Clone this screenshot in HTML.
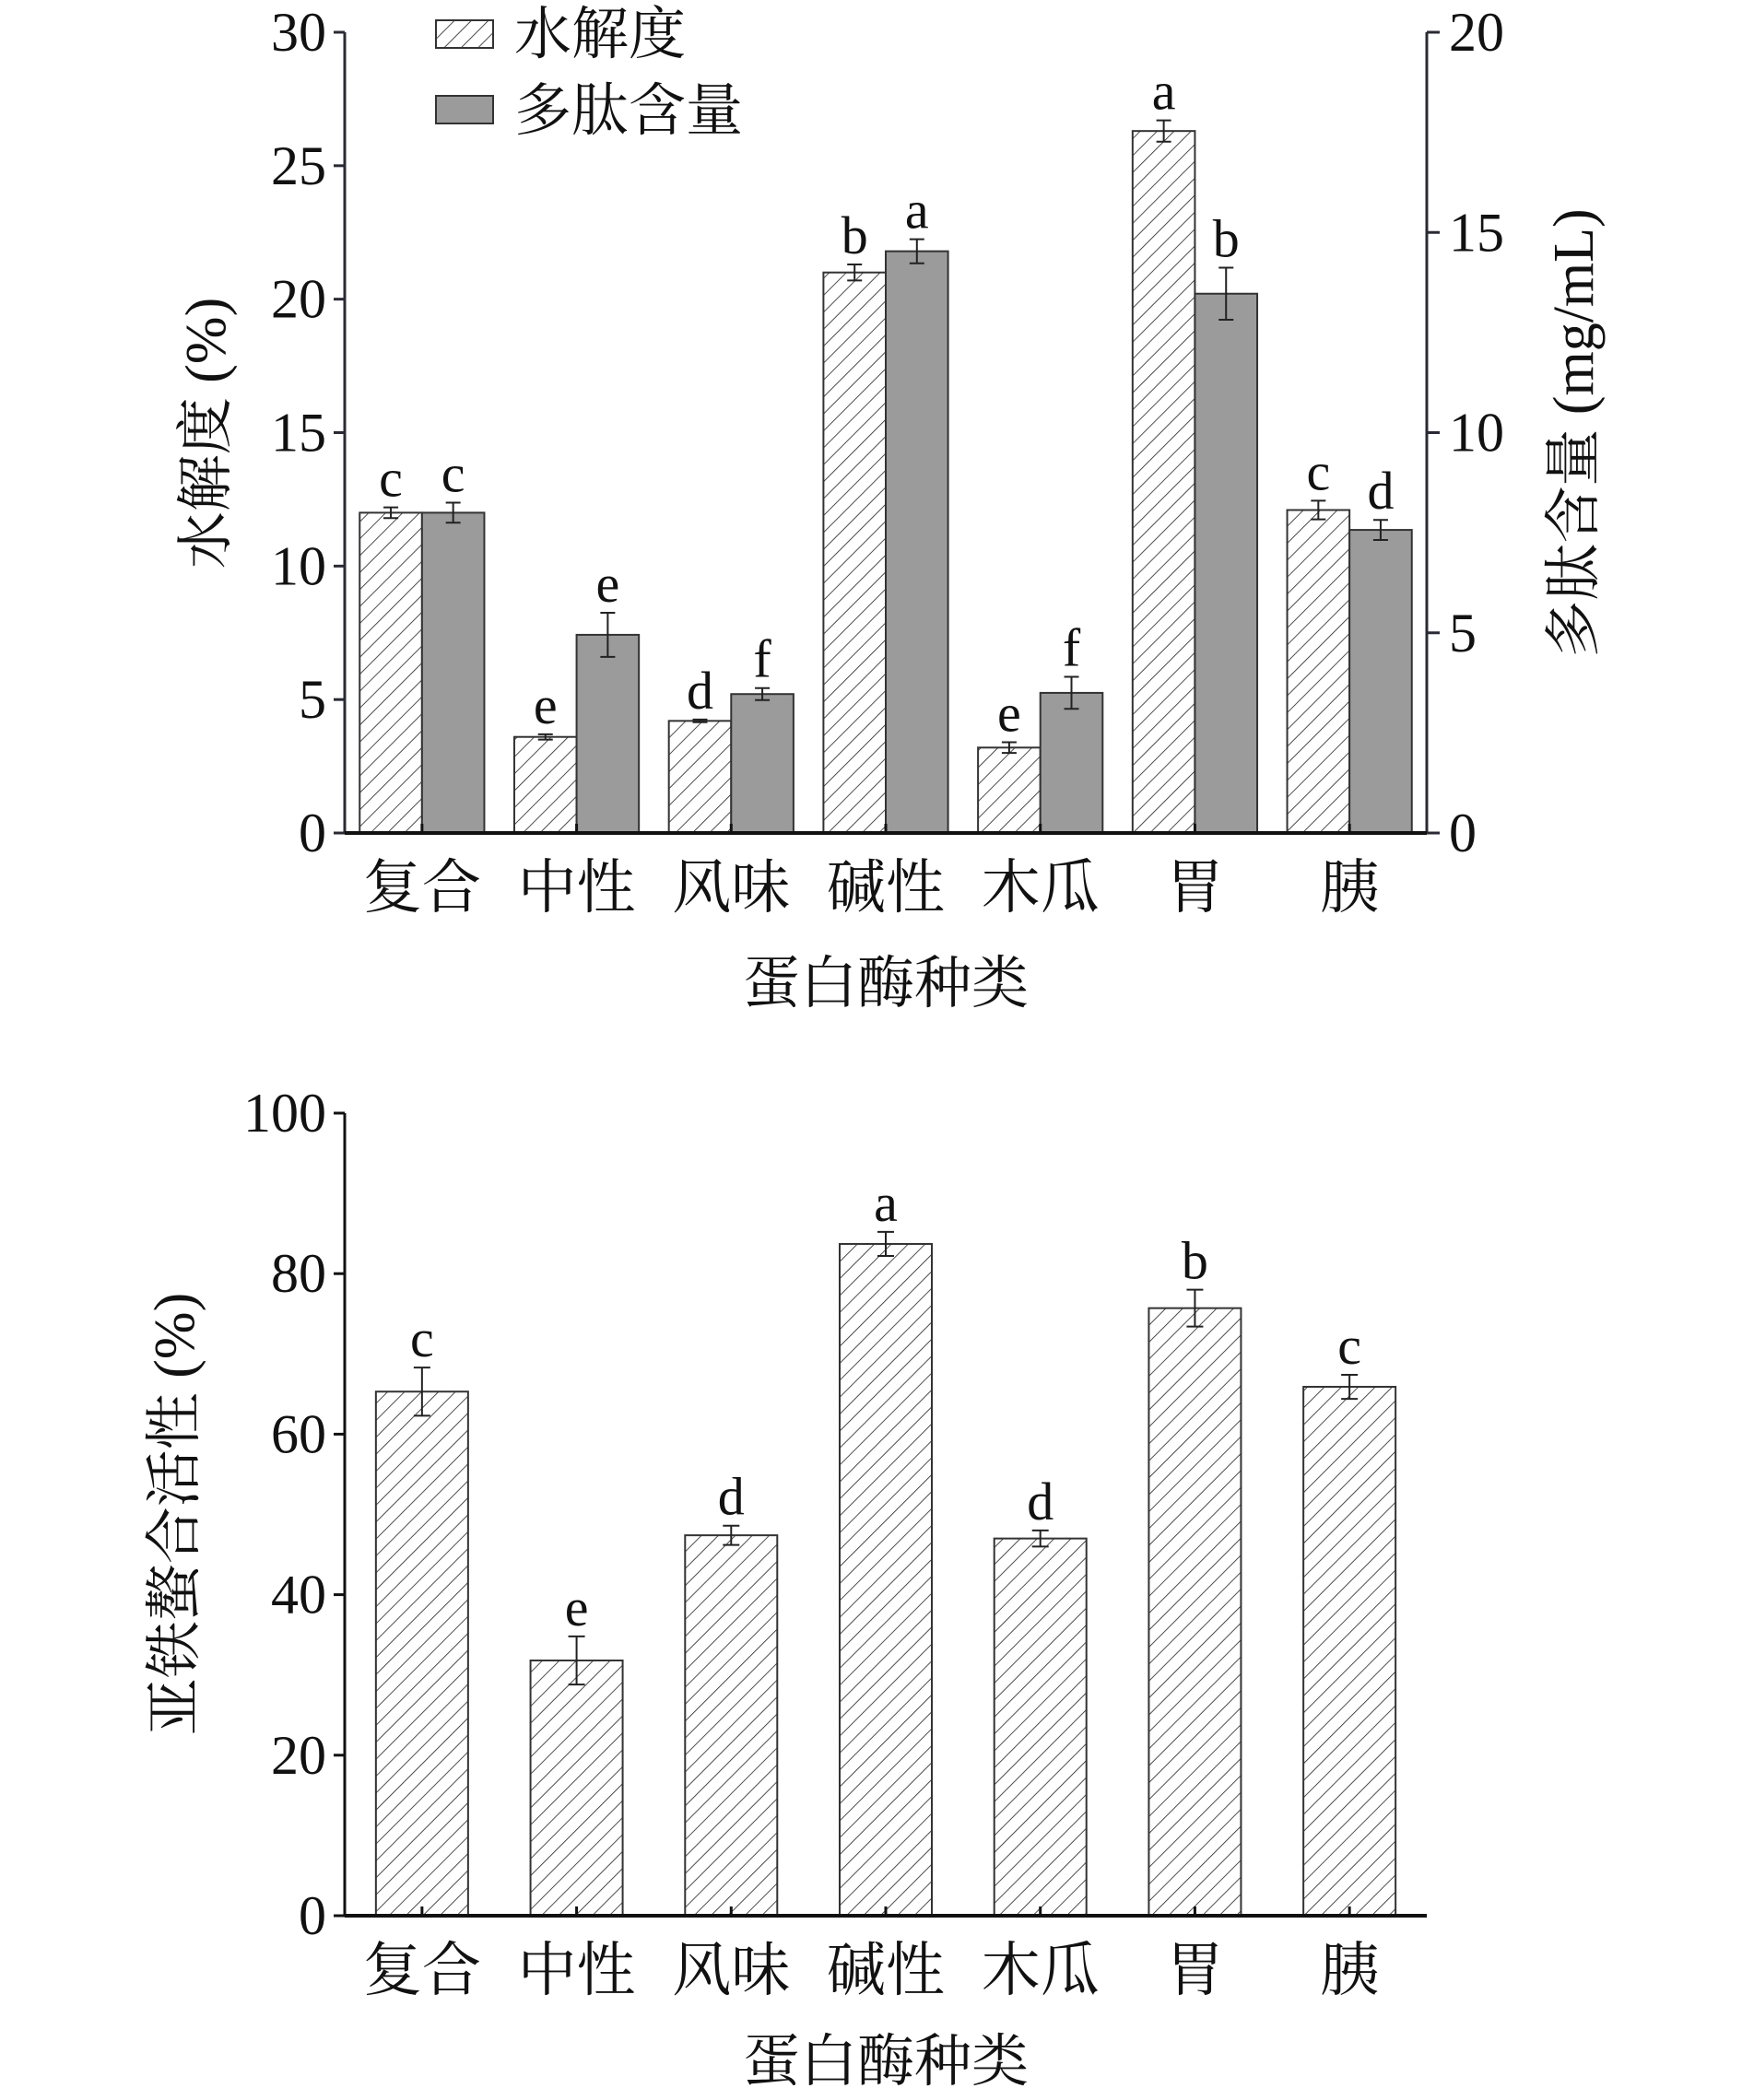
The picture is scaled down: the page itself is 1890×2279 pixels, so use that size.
<!DOCTYPE html>
<html><head><meta charset="utf-8">
<style>
html,body{margin:0;padding:0;background:#fff;}
svg{display:block;}
text{font-family:"Liberation Serif","Noto Serif CJK SC",serif;fill:#111;}
</style></head>
<body>
<svg id="chart" width="1890" height="2279" viewBox="0 0 1890 2279" xmlns="http://www.w3.org/2000/svg">
<defs>
<pattern id="hatch" patternUnits="userSpaceOnUse" width="13" height="13" patternTransform="rotate(45)">
<rect width="13" height="13" fill="#fff"/>
<line x1="0" y1="0" x2="0" y2="13" stroke="#222" stroke-width="1.6"/>
</pattern>
</defs>
</svg>
<script>
const categories = ["复合","中性","风味","碱性","木瓜","胃","胰"];
const dhValues = [12.0, 3.6, 4.2, 21.0, 3.2, 26.3, 12.1];
const dhErrors = [0.2, 0.1, 0.05, 0.3, 0.2, 0.4, 0.35];
const dhLetters = ["c","e","d","b","e","a","c"];
const peptideValues = [8.0, 4.95, 3.47, 14.53, 3.5, 13.47, 7.57];
const peptideErrors = [0.25, 0.55, 0.15, 0.3, 0.4, 0.65, 0.25];
const peptideLetters = ["c","e","f","a","f","b","d"];
const leftTicks = [0,5,10,15,20,25,30];
const rightTicks = [0,5,10,15,20];
const chelValues = [65.3, 31.8, 47.4, 83.7, 47.0, 75.7, 65.9];
const chelErrors = [3.0, 3.0, 1.2, 1.5, 1.0, 2.3, 1.5];
const chelLetters = ["c","e","d","a","d","b","c"];
const chelTicks = [0,20,40,60,80,100];

const svg = document.getElementById('chart');
const NS = 'http://www.w3.org/2000/svg';
function mk(tag, attrs, parent){const e=document.createElementNS(NS,tag);for(const k in attrs)e.setAttribute(k,attrs[k]);(parent||svg).appendChild(e);return e;}
function txt(s, attrs, parent){const e=mk('text',attrs,parent);e.textContent=s;return e;}
const AX='#2a2a35';
const TICKF=60, LETF=58, CATF=64, TITF=62;

// ---------- Top chart ----------
const T={x0:374,x1:1548,y0:904,y1:35};
const groupW=(T.x1-T.x0)/categories.length;
const yL=v=>T.y0-(v/30)*(T.y0-T.y1);
const yR=v=>T.y0-(v/20)*(T.y0-T.y1);
const gTop=mk('g',{});


const bw=67.6;
categories.forEach((c,i)=>{
  const cx=T.x0+groupW*(i+0.5);
  const y=yL(dhValues[i]);
  const r=mk('rect',{x:cx-bw,y:y,width:bw,height:T.y0-y,fill:'url(#hatch)',stroke:'#333','stroke-width':2},gTop);
  
  
  const ex=cx-bw/2;
  const eh=yL(dhValues[i]+dhErrors[i]), el=yL(dhValues[i]-dhErrors[i]);
  mk('path',{d:`M${ex},${eh}V${el}M${ex-8},${eh}H${ex+8}M${ex-8},${el}H${ex+8}`,stroke:'#222','stroke-width':2,fill:'none'},gTop);
  const l1=txt(dhLetters[i],{x:ex,y:eh-12,'font-size':LETF,'text-anchor':'middle'},gTop);
  
  
  const y2=yR(peptideValues[i]);
  const r2=mk('rect',{x:cx,y:y2,width:bw,height:T.y0-y2,fill:'#9b9b9b',stroke:'#333','stroke-width':2},gTop);
  
  
  const ex2=cx+bw/2;
  const eh2=yR(peptideValues[i]+peptideErrors[i]), el2=yR(peptideValues[i]-peptideErrors[i]);
  mk('path',{d:`M${ex2},${eh2}V${el2}M${ex2-8},${eh2}H${ex2+8}M${ex2-8},${el2}H${ex2+8}`,stroke:'#222','stroke-width':2,fill:'none'},gTop);
  const l2=txt(peptideLetters[i],{x:ex2,y:eh2-12,'font-size':LETF,'text-anchor':'middle'},gTop);
  
  
  mk('line',{x1:cx,y1:T.y0,x2:cx,y2:T.y0-10,stroke:'#111','stroke-width':3},gTop);
  const cl=txt(c,{x:cx,y:985,'font-size':CATF,'text-anchor':'middle'},gTop);
  
  
});
mk('line',{x1:T.x0,y1:T.y1,x2:T.x0,y2:T.y0,stroke:AX,'stroke-width':3},gTop);
mk('line',{x1:T.x1,y1:T.y1,x2:T.x1,y2:T.y0,stroke:AX,'stroke-width':3},gTop);
mk('line',{x1:T.x0,y1:T.y0,x2:T.x1,y2:T.y0,stroke:'#111','stroke-width':4},gTop);
leftTicks.forEach(v=>{
  const y=yL(v);
  mk('line',{x1:T.x0-12,y1:y,x2:T.x0,y2:y,stroke:AX,'stroke-width':3},gTop);
  const t=txt(String(v),{x:T.x0-20,y:y+20,'font-size':TICKF,'text-anchor':'end',fill:'#2a2a40'},gTop);
  
  
});
rightTicks.forEach(v=>{
  const y=yR(v);
  mk('line',{x1:T.x1,y1:y,x2:T.x1+14,y2:y,stroke:AX,'stroke-width':3},gTop);
  const t=txt(String(v),{x:T.x1+24,y:y+20,'font-size':TICKF,'text-anchor':'start',fill:'#2a2a40'},gTop);
  
  
});
const ytl=txt('水解度 (%)',{x:0,y:0,'font-size':TITF,'text-anchor':'middle',transform:'translate(244,470) rotate(-90)'},gTop);


const ytr=txt('多肽含量 (mg/mL)',{x:0,y:0,'font-size':TITF,'text-anchor':'middle',transform:'translate(1728,470) rotate(-90)'},gTop);


const xt1=txt('蛋白酶种类',{x:961,y:1088,'font-size':TITF,'text-anchor':'middle'},gTop);


const lg=mk('g',{},gTop);


mk('rect',{x:473,y:22,width:62,height:30,fill:'url(#hatch)',stroke:'#333','stroke-width':2},lg);
const lt1=txt('水解度',{x:558,y:58,'font-size':TITF},lg);


mk('rect',{x:473,y:104,width:62,height:30,fill:'#9b9b9b',stroke:'#333','stroke-width':2},lg);
const lt2=txt('多肽含量',{x:558,y:141,'font-size':TITF},lg);



// ---------- Bottom chart ----------
const B={x0:374,x1:1548,y0:2079,y1:1208};
const yB=v=>B.y0-(v/100)*(B.y0-B.y1);
const gB=mk('g',{});


const bw2=100;
categories.forEach((c,i)=>{
  const cx=B.x0+groupW*(i+0.5);
  const y=yB(chelValues[i]);
  const r=mk('rect',{x:cx-bw2/2,y:y,width:bw2,height:B.y0-y,fill:'url(#hatch)',stroke:'#333','stroke-width':2},gB);
  
  
  const eh=yB(chelValues[i]+chelErrors[i]), el=yB(chelValues[i]-chelErrors[i]);
  mk('path',{d:`M${cx},${eh}V${el}M${cx-9},${eh}H${cx+9}M${cx-9},${el}H${cx+9}`,stroke:'#222','stroke-width':2,fill:'none'},gB);
  const l=txt(chelLetters[i],{x:cx,y:eh-12,'font-size':LETF,'text-anchor':'middle'},gB);
  
  
  mk('line',{x1:cx,y1:B.y0,x2:cx,y2:B.y0-10,stroke:'#111','stroke-width':3},gB);
  const cl=txt(c,{x:cx,y:2160,'font-size':CATF,'text-anchor':'middle'},gB);
  
  
});
mk('line',{x1:B.x0,y1:B.y1,x2:B.x0,y2:B.y0,stroke:'#111','stroke-width':3},gB);
mk('line',{x1:B.x0,y1:B.y0,x2:B.x1,y2:B.y0,stroke:'#111','stroke-width':4},gB);
chelTicks.forEach(v=>{
  const y=yB(v);
  mk('line',{x1:B.x0-12,y1:y,x2:B.x0,y2:y,stroke:'#111','stroke-width':3},gB);
  const t=txt(String(v),{x:B.x0-20,y:y+20,'font-size':TICKF,'text-anchor':'end'},gB);
  
  
});
const ytb=txt('亚铁螯合活性 (%)',{x:0,y:0,'font-size':TITF,'text-anchor':'middle',transform:'translate(210,1643) rotate(-90)'},gB);


const xt2=txt('蛋白酶种类',{x:961,y:2258,'font-size':TITF,'text-anchor':'middle'},gB);


</script>
</body></html>
